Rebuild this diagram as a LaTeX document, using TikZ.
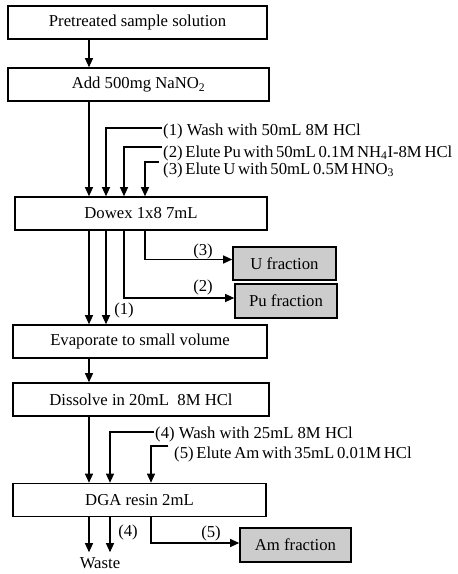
\documentclass[tikz,border=0pt]{standalone}
\usepackage{fontspec}
\setmainfont{Liberation Serif}
\usetikzlibrary{arrows.meta}
\tikzset{
  stepbox/.style={draw, line width=1.6pt, minimum height=33pt, inner sep=0pt,
    font=\fontsize{16.7}{20}\selectfont},
  fracbox/.style={stepbox, fill=gray!40},
  arr/.style={line width=1.1pt, -{Triangle[length=9pt,width=8pt]}},
  lbl/.style={inner sep=1pt, font=\fontsize{16.7}{20}\selectfont},
  tight/.style={execute at begin node={\spaceskip=2.7pt plus 1pt\relax}},
}
\begin{document}
\begin{tikzpicture}[x=1pt,y=-1pt]
        \useasboundingbox (0,0) rectangle (458,574);
        % Main steps
        \node[stepbox, minimum width=259pt] (pre) at (137.5,22.5) {Pretreated sample solution};
        \node[stepbox, minimum width=261pt] (add) at (138.5,84.5) {Add 500mg NaNO\textsubscript{2}};
        \node[stepbox, minimum width=252pt] (dowex) at (141,213.5) {Dowex 1x8 7mL};
        \node[stepbox, minimum width=254pt] (evap) at (140,341.5) {Evaporate to small volume};
        \node[stepbox, minimum width=256pt] (diss) at (141,399.5) {Dissolve in 20mL~ 8M HCl};
        \node[stepbox, minimum width=253pt] (dga) at (139.5,500) {DGA resin 2mL};
        % Fractions
        \node[fracbox, minimum width=103pt] (ufrac) at (284.5,263.5) {U fraction};
        \node[fracbox, minimum width=102pt, minimum height=34pt] (pufrac) at (286,301) {Pu fraction};
        \node[fracbox, minimum width=111pt, minimum height=34pt] (amfrac) at (295.5,545) {Am fraction};
        \node[lbl, inner ysep=5pt] (waste) at (100,563) {Waste};
        % Lanes
        \coordinate (la) at (89,0);
        \coordinate (lb) at (106,0);
        \coordinate (lc) at (124,0);
        \coordinate (ld) at (145,0);
        \coordinate (le) at (110,0);
        \coordinate (lf) at (151,0);
        % Reagents
        \node[lbl, anchor=west] (r1) at (162,131) {(1) Wash with 50mL 8M HCl};
        \node[lbl, tight, anchor=west] (r2) at (162,153) {(2) Elute Pu with 50mL 0.1M NH\textsubscript{4}I-8M HCl};
        \node[lbl, tight, anchor=west] (r3) at (162,170) {(3) Elute U with 50mL 0.5M HNO\textsubscript{3}};
        \node[lbl, anchor=west] (r4) at (154,434) {(4) Wash with 25mL 8M HCl};
        \node[lbl, tight, anchor=west] (r5) at (173,454) {(5) Elute Am with 35mL 0.01M HCl};
        % Flow
        \draw[arr] (pre.south -| la) -- (add.north -| la);
        \draw[arr] (add.south -| la) -- (dowex.north -| la);
        \draw[arr] ([yshift=3pt]r1.west) -| (dowex.north -| lb);
        \draw[arr] ([yshift=6pt]r2.west) -| (dowex.north -| lc);
        \draw[arr] ([yshift=8pt,xshift=-3pt]r3.west) -| (dowex.north -| ld);
        \draw[arr] (dowex.south -| ld) |- ([yshift=4pt]ufrac.west);
        \draw[arr] (dowex.south -| lc) |- ([yshift=3pt]pufrac.west);
        \draw[arr] (dowex.south -| la) -- (evap.north -| la);
        \draw[arr] (dowex.south -| lb) -- (evap.north -| lb);
        \node[lbl] (l3) at (203,251) {(3)};
        \node[lbl] (l2) at (203,287) {(2)};
        \node[lbl] (l1) at (124,310) {(1)};
        \draw[arr] (evap.south -| la) -- (diss.north -| la);
        \draw[arr] (diss.south -| la) -- (dga.north -| la);
        \draw[arr] ([yshift=2pt]r4.west) -| (dga.north -| le);
        \draw[arr] ([yshift=8pt,xshift=-5pt]r5.west) -| (dga.north -| lf);
        \draw[arr] (dga.south -| la) -- (waste.north -| la);
        \draw[arr] (dga.south -| le) -- (waste.north -| le);
        \draw[arr] (dga.south -| lf) |- ([yshift=2pt]amfrac.west);
        \node[lbl] (l4) at (128,532) {(4)};
        \node[lbl] (l5) at (211,533) {(5)};
    \end{tikzpicture}
\end{document}
